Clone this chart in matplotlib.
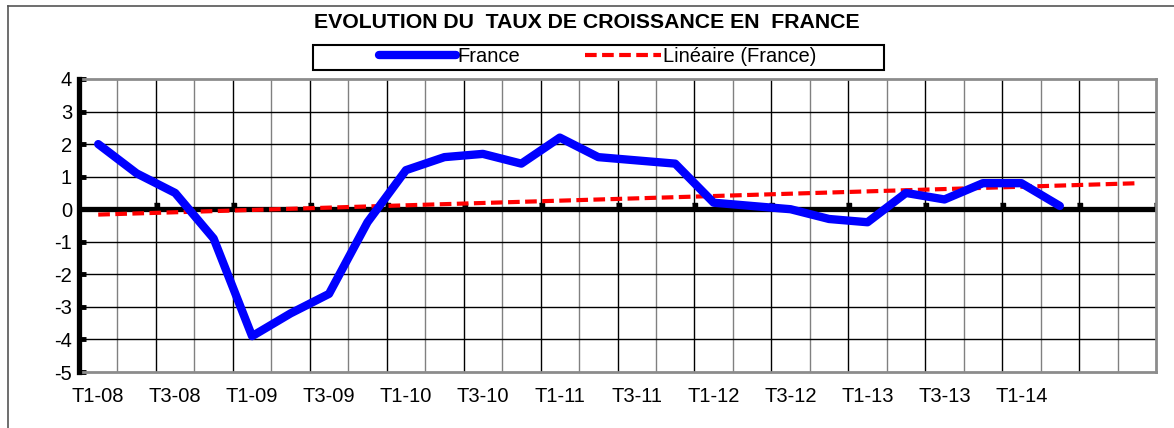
import numpy as np
import matplotlib.pyplot as plt
from matplotlib.lines import Line2D
from matplotlib.patches import Rectangle

plt.rcParams['font.family'] = ['Liberation Sans', 'DejaVu Sans']
plt.rcParams['axes.unicode_minus'] = False

# categories (28 quarters, 2008-2014), labels shown every 2
quarters = ['T%d-%02d' % (q, y) for y in range(8, 15) for q in (1, 2, 3, 4)]
# quarterly growth rate, year on year (%), T1-08 .. T2-14
france = [2.0, 1.1, 0.5, -0.9, -3.9, -3.2, -2.6, -0.4,
          1.2, 1.6, 1.7, 1.4, 2.2, 1.6, 1.5, 1.4,
          0.2, 0.1, 0.0, -0.3, -0.4, 0.5, 0.3, 0.8,
          0.8, 0.1]
tick_labels = quarters[:26:2]

fig = plt.figure(figsize=(11.74, 4.28), dpi=100)
ax = fig.add_axes([79 / 1174, 1 - 372 / 428, 1077 / 1174, 293 / 428])

n = len(quarters)
x = np.arange(len(france)) + 0.5

# linear trendline over the whole category range
coef = np.polyfit(np.arange(len(france)), france, 1)
xt = np.arange(n)
trend = np.polyval(coef, xt)

# grid: vertical minor (gray) / major (black), horizontal black
for b in range(1, n):
    ax.axvline(b, color='black' if b % 2 == 0 else '#808080', lw=1.0, zorder=1)
for yv in range(-4, 4):
    ax.axhline(yv, color='black', lw=1.0, zorder=1)

ax.axhline(0, color='black', lw=3.8, zorder=2)
tick_mark = [(-0.4, 0), (0.4, 0), (0.4, 1), (-0.4, 1)]
ax.plot(np.arange(2, n + 1, 2), np.zeros(n // 2), ls='none', marker=tick_mark,
        markersize=9, color='black', zorder=2)

ax.plot(xt + 0.5, trend, color='#ff0000', lw=3, dashes=(2.8, 1.3), zorder=3,
        label='Linéaire (France)')
ax.plot(x, france, color='#0000ff', lw=6, solid_capstyle='round',
        solid_joinstyle='round', zorder=4, label='France')

ax.set_xlim(0, n)
ax.set_ylim(-5, 4)
ax.set_yticks(range(-5, 5))
ax.set_xticks(np.arange(0, 26, 2) + 0.5)
ax.set_xticklabels(tick_labels)
ax.tick_params(axis='x', length=0, pad=11, labelsize=14.5)
ax.tick_params(axis='y', direction='in', length=5, width=3.5, pad=5,
               labelsize=14.5)

for s in ('top', 'right', 'bottom'):
    ax.spines[s].set_color('#8c8c8c')
    ax.spines[s].set_linewidth(2)
ax.spines['left'].set_linewidth(3.8)
ax.spines['left'].set_zorder(5)

fig.text(0.5, 1 - 22 / 428, 'EVOLUTION DU  TAUX DE CROISSANCE EN  FRANCE',
         ha='center', va='center', fontsize=15.3, fontweight='bold')

# legend box drawn separately (wide horizontal padding as in the original)
fig.add_artist(Rectangle((313 / 1174, 1 - 70 / 428), 571 / 1174, 25 / 428,
                         transform=fig.transFigure, fill=False,
                         edgecolor='black', lw=1.5))
handles = [Line2D([], [], color='#0000ff', lw=6, solid_capstyle='round'),
           Line2D([], [], color='#ff0000', lw=3, dashes=(2.8, 1.3))]
leg = fig.legend(handles, ['France', 'Linéaire (France)'], ncol=2,
                 loc='center', bbox_to_anchor=(598 / 1174, 1 - 57 / 428),
                 fontsize=14.5, frameon=False,
                 handlelength=3.8, handletextpad=0.1, columnspacing=3.2,
                 borderpad=0.1)

# outer chart border (left and top visible)
fig.add_artist(Line2D([8 / 1174, 8 / 1174], [0, 1 - 6 / 428], color='#555555',
                      lw=1.2, transform=fig.transFigure))
fig.add_artist(Line2D([8 / 1174, 1], [1 - 6 / 428, 1 - 6 / 428],
                      color='#555555', lw=1.2, transform=fig.transFigure))

fig.savefig('out.png', dpi=100)
